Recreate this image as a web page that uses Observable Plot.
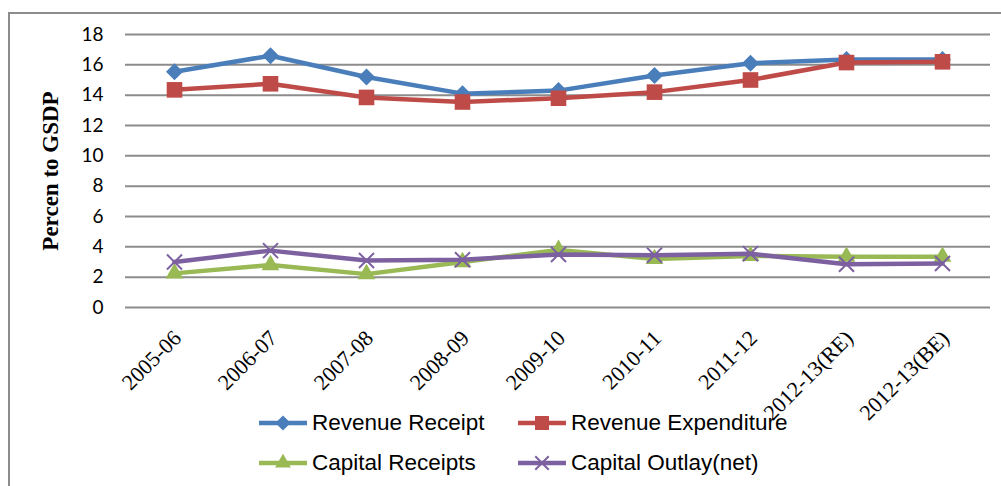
<!DOCTYPE html>
<html><head><meta charset="utf-8">
<script src="https://cdn.jsdelivr.net/npm/d3@7"></script>
<script src="https://cdn.jsdelivr.net/npm/@observablehq/plot@0.6"></script>
<style>
html,body{margin:0;padding:0;background:#fff;}
#wrap{position:relative;width:1001px;height:486px;overflow:hidden;background:#fff;}
#chart{position:absolute;left:0;top:0;}
#frame{position:absolute;left:8px;top:12px;width:1100px;height:600px;border:2px solid #8c8c8c;pointer-events:none;box-sizing:border-box;}
#ylabel{position:absolute;left:51px;top:171px;transform:translate(-50%,-50%) rotate(-90deg);font:bold 23px "Liberation Serif";white-space:nowrap;color:#000;}
#legend{position:absolute;left:258px;top:403px;display:grid;grid-template-columns:259px auto;grid-auto-rows:40px;font:22.5px "Liberation Sans";color:#000;}
.item{display:flex;align-items:center;height:40px;}
.item svg{display:block;margin-right:4px;}
</style></head>
<body>
<div id="wrap">
  <div id="chart"></div>
  <div id="ylabel">Percen to GSDP</div>
  <div id="legend"></div>
  <div id="frame"></div>
</div>
<script>
const categories = ["2005-06","2006-07","2007-08","2008-09","2009-10","2010-11","2011-12","2012-13(RE)","2012-13(BE)"];
const revenueReceipt     = [15.55, 16.6, 15.2, 14.1, 14.3, 15.3, 16.1, 16.35, 16.35];
const revenueExpenditure = [14.35, 14.75, 13.85, 13.55, 13.8, 14.2, 15.0, 16.15, 16.2];
const capitalReceipts    = [2.25, 2.8, 2.2, 3.0, 3.8, 3.2, 3.4, 3.35, 3.35];
const capitalOutlay      = [3.0, 3.75, 3.1, 3.15, 3.5, 3.45, 3.55, 2.85, 2.9];
const yTicks = [0, 2, 4, 6, 8, 10, 12, 14, 16, 18];
const seriesNames = ["Revenue Receipt", "Revenue Expenditure", "Capital Receipts", "Capital Outlay(net)"];

const seriesValues = [revenueReceipt, revenueExpenditure, capitalReceipts, capitalOutlay];
const styles = [
  {color: "#4A7EBB", symbol: "square", r: 6.8, rotate: 45, filled: true},
  {color: "#BE4B48", symbol: "square", r: 8.8, rotate: 0, filled: true},
  {color: "#98B954", symbol: "triangle", r: 6.6, rotate: 0, filled: true},
  {color: "#7D60A0", symbol: "times", r: 6.9, rotate: 0, filled: false}
];

const series = seriesNames.map((name, k) => ({
  name,
  style: styles[k],
  data: categories.map((c, i) => ({category: c, value: seriesValues[k][i], series: name}))
}));

const marks = [
  Plot.gridY(yTicks, {stroke: "#8c8c8c", strokeOpacity: 1, strokeWidth: 2}),
  Plot.axisY(yTicks, {tickSize: 0, tickPadding: 22, fontSize: 19, fontFamily: "Lato", label: null, color: "#000"}),
  Plot.axisX({tickSize: 0, tickRotate: -45, tickPadding: 27, dx: 3, fontSize: 22, fontFamily: "Liberation Serif", label: null, color: "#000"})
];
for (const s of series) {
  const st = s.style;
  marks.push(Plot.line(s.data, {x: "category", y: "value", stroke: st.color, strokeWidth: 4.5, strokeLinejoin: "round", strokeLinecap: "round"}));
  if (st.filled) {
    marks.push(Plot.dot(s.data, {x: "category", y: "value", symbol: st.symbol, r: st.r, fill: st.color, stroke: "none", rotate: st.rotate}));
  } else {
    marks.push(Plot.dot(s.data, {x: "category", y: "value", symbol: st.symbol, r: st.r, stroke: st.color, strokeWidth: 2}));
  }
}

const chart = Plot.plot({
  width: 1001,
  height: 486,
  marginTop: 34,
  marginLeft: 125,
  marginRight: 11,
  marginBottom: 179,
  style: {background: "transparent", color: "#000", overflow: "visible"},
  x: {type: "point", domain: categories, padding: 0.5, axis: null},
  y: {domain: [0, 18], axis: null},
  marks
});
document.getElementById("chart").appendChild(chart);

// legend
const legend = document.getElementById("legend");
const symMap = {square: d3.symbolSquare, triangle: d3.symbolTriangle, times: d3.symbolTimes};
series.forEach(s => {
  const st = s.style;
  const item = document.createElement("div");
  item.className = "item";
  const svg = d3.create("svg").attr("width", 50).attr("height", 22);
  svg.append("line").attr("x1", 1).attr("x2", 49).attr("y1", 11).attr("y2", 11)
    .attr("stroke", st.color).attr("stroke-width", 4.5);
  const size = Math.PI * st.r * st.r * 0.8;
  const p = svg.append("path").attr("d", d3.symbol(symMap[st.symbol], size)())
    .attr("transform", `translate(25,11) rotate(${st.rotate})`);
  if (st.filled) p.attr("fill", st.color); else p.attr("fill", "none").attr("stroke", st.color).attr("stroke-width", 2);
  item.appendChild(svg.node());
  const t = document.createElement("span");
  t.textContent = s.name;
  item.appendChild(t);
  legend.appendChild(item);
});
</script>
</body></html>
